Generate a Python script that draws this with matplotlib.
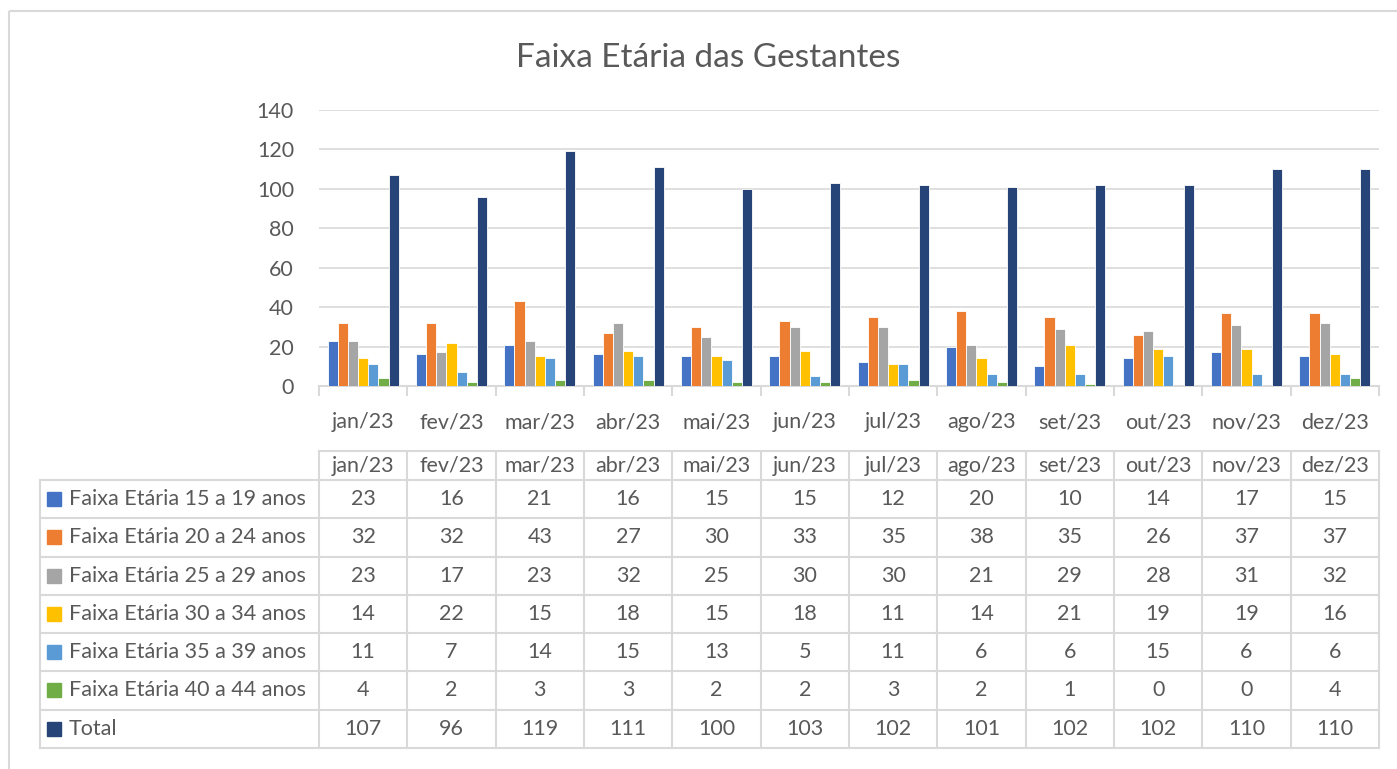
import matplotlib
matplotlib.use("Agg")
import matplotlib.pyplot as plt
from matplotlib.patches import Rectangle
import numpy as np

plt.rcParams['font.family'] = ['Lato', 'DejaVu Sans']

months = ["jan/23", "fev/23", "mar/23", "abr/23", "mai/23", "jun/23",
          "jul/23", "ago/23", "set/23", "out/23", "nov/23", "dez/23"]
series_names = ["Faixa Etária 15 a 19 anos", "Faixa Etária 20 a 24 anos",
                "Faixa Etária 25 a 29 anos", "Faixa Etária 30 a 34 anos",
                "Faixa Etária 35 a 39 anos", "Faixa Etária 40 a 44 anos", "Total"]
f15_19 = [23, 16, 21, 16, 15, 15, 12, 20, 10, 14, 17, 15]
f20_24 = [32, 32, 43, 27, 30, 33, 35, 38, 35, 26, 37, 37]
f25_29 = [23, 17, 23, 32, 25, 30, 30, 21, 29, 28, 31, 32]
f30_34 = [14, 22, 15, 18, 15, 18, 11, 14, 21, 19, 19, 16]
f35_39 = [11, 7, 14, 15, 13, 5, 11, 6, 6, 15, 6, 6]
f40_44 = [4, 2, 3, 3, 2, 2, 3, 2, 1, 0, 0, 4]
total = [107, 96, 119, 111, 100, 103, 102, 101, 102, 102, 110, 110]
series = [f15_19, f20_24, f25_29, f30_34, f35_39, f40_44, total]
colors = ["#4472C4", "#ED7D31", "#A5A5A5", "#FFC000", "#5B9BD5", "#70AD47", "#264478"]
yticks = [0, 20, 40, 60, 80, 100, 120, 140]

W, H = 1397, 769
TXT = "#595959"
GRID = "#D9D9D9"
FS = 15.5
fig = plt.figure(figsize=(W / 100, H / 100), dpi=100)

# overlay in pixel coordinates
ov = fig.add_axes([0, 0, 1, 1], zorder=0)
ov.set_xlim(0, W)
ov.set_ylim(H, 0)
ov.axis("off")
ov.add_patch(Rectangle((9, 11), 1400, 800, fill=False, ec=GRID, lw=1.5))

x0, x1 = 319, 1379
ytop, ybot = 110, 386
ax = fig.add_axes([x0 / W, 1 - ybot / H, (x1 - x0) / W, (ybot - ytop) / H], zorder=1)
ax.patch.set_alpha(0)
n = len(months)
x = np.arange(n)
slot = 0.115
for i, (vals, c) in enumerate(zip(series, colors)):
    off = (i - 3) * slot
    ax.bar(x + off, vals, width=slot, color=c, edgecolor="white", linewidth=0.6, zorder=3)
ax.set_xlim(-0.5, n - 0.5)
ax.set_ylim(0, 140)
ax.set_yticks(yticks)
ax.set_yticklabels([str(v) for v in yticks], fontsize=FS, color=TXT)
ax.yaxis.grid(True, color=GRID, lw=1.2, zorder=0)
ax.tick_params(axis="y", length=0, pad=18)
ax.set_xticks(np.arange(-0.5, n, 1.0))
ax.set_xticklabels([])
ax.tick_params(axis="x", length=7, color=GRID, width=1.5, direction="out")
ax.set_xticks(x, minor=True)
ax.set_xticklabels(months, minor=True, fontsize=FS, color=TXT)
ax.tick_params(axis="x", which="minor", length=0, pad=19)
for s in ["top", "right", "left"]:
    ax.spines[s].set_visible(False)
ax.spines["bottom"].set_color(GRID)
ax.spines["bottom"].set_linewidth(1.5)

fig.text(708 / W, 1 - 58 / H, "Faixa Etária das Gestantes", ha="center", va="center",
         fontsize=24, color=TXT)

# data table
colw = (x1 - x0) / n
hdr_top, hdr_bot = 451, 480
rowh = 38.25
tl = 40
lc = dict(color=GRID, lw=1.5)
ov.plot([x0, x1], [hdr_top, hdr_top], **lc)
for j in range(n + 1):
    xx = x0 + j * colw
    ov.plot([xx, xx], [hdr_top, hdr_bot + rowh * len(series)], **lc)
for j, m in enumerate(months):
    ov.text(x0 + (j + 0.5) * colw, (hdr_top + hdr_bot) / 2, m, ha="center", va="center",
            fontsize=FS, color=TXT)
ybottom = hdr_bot + rowh * len(series)
ov.plot([tl, tl], [hdr_bot, ybottom], **lc)
for r in range(len(series) + 1):
    yy = hdr_bot + r * rowh
    ov.plot([tl, x1], [yy, yy], **lc)
for r, (name, vals, c) in enumerate(zip(series_names, series, colors)):
    yc = hdr_bot + (r + 0.5) * rowh
    ov.add_patch(Rectangle((47, yc - 7), 14, 14, color=c))
    ov.text(69, yc, name, ha="left", va="center", fontsize=FS, color=TXT)
    for j, v in enumerate(vals):
        ov.text(x0 + (j + 0.5) * colw, yc, str(v), ha="center", va="center",
                fontsize=FS, color=TXT)

fig.savefig("out.png", dpi=100, facecolor="white")
